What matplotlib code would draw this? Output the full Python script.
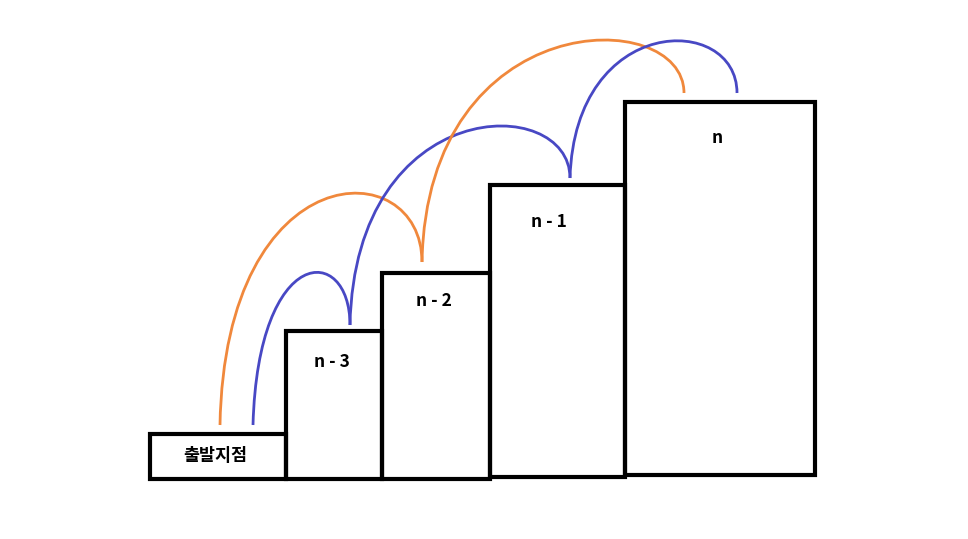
import matplotlib
matplotlib.use("Agg")
import matplotlib.pyplot as plt
from matplotlib.patches import Rectangle, PathPatch
from matplotlib.path import Path

plt.rcParams['font.family'] = ['Noto Sans CJK KR', 'DejaVu Sans']

# Steps (pixel space: left, top, right, bottom)
labels = ["출발지점", "n - 3", "n - 2", "n - 1", "n"]
lefts = [150, 286, 382, 490, 625]
rights = [286, 382, 490, 625, 815]
tops = [434, 331, 273, 185, 102]
bottoms = [479, 479, 479, 477, 475]
label_x = [215, 332, 434, 549, 717]
label_y = [456, 362, 301, 222, 138]

# Jumps: start, end, control height, colour
arc_start = [(220, 425), (253, 425), (350, 325), (422, 262), (570, 178)]
arc_end = [(422, 262), (350, 325), (570, 178), (684, 93), (737, 93)]
arc_ctrl_y = [152, 243, 93, 5, 13]
arc_colors = ["#f0883c", "#4848c4", "#4848c4", "#f0883c", "#4848c4"]

fig = plt.figure(figsize=(9.68, 5.39), dpi=100)
ax = fig.add_axes([0, 0, 1, 1])
ax.set_xlim(0, 968)
ax.set_ylim(539, 0)
ax.axis('off')

for l, r, t, b in zip(lefts, rights, tops, bottoms):
    ax.add_patch(Rectangle((l, t), r - l, b - t, fill=False, lw=3, ec='black'))
for s, x, y in zip(labels, label_x, label_y):
    ax.text(x, y, s, ha='center', va='center', fontsize=12.5, fontweight='bold')

for (x0, y0), (x3, y3), cy, c in zip(arc_start, arc_end, arc_ctrl_y, arc_colors):
    verts = [(x0, y0), (x0 + 5, cy), (x3, cy), (x3, y3)]
    p = Path(verts, [Path.MOVETO, Path.CURVE4, Path.CURVE4, Path.CURVE4])
    ax.add_patch(PathPatch(p, fill=False, ec=c, lw=2))

fig.savefig("out.png", dpi=100)
